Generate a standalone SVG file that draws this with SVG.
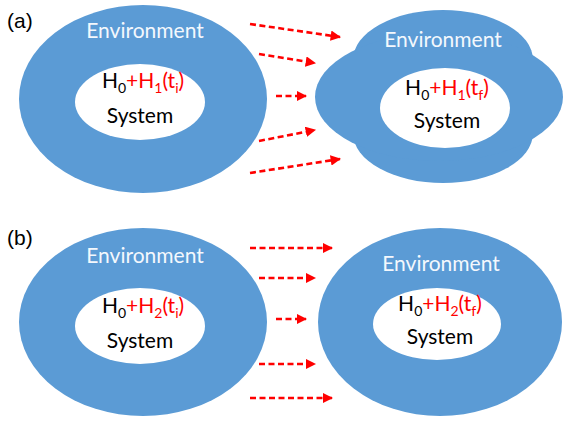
<svg xmlns="http://www.w3.org/2000/svg" width="566" height="422" viewBox="0 0 566 422">
<defs>
<style>
.env{fill:#5B9BD5}
.sys{fill:#FFFFFF}
.et{font-family:Lato,"Open Sans",sans-serif;font-size:21px;fill:#F4F8FD;text-anchor:middle}
.st{font-family:Lato,"Open Sans",sans-serif;font-size:21px;fill:#000;text-anchor:middle}
.r{fill:#FF0000}
.sub{font-size:14px}
.lbl{font-family:"Liberation Sans",Arial,sans-serif;font-size:21px;fill:#000}
.arr{stroke:#FF0000;stroke-width:2.6;stroke-dasharray:6 3.5;fill:none;marker-end:url(#ah)}
</style>
<marker id="ah" viewBox="0 0 10 10" refX="9" refY="5" markerWidth="4" markerHeight="4" orient="auto" markerUnits="strokeWidth">
<path d="M0,0 L10,5 L0,10 z" fill="#FF0000"/>
</marker>
</defs>
<rect width="566" height="422" fill="#FFFFFF"/>
<text class="lbl" x="7" y="28">(a)</text>
<text class="lbl" x="7" y="245">(b)</text>
<g id="a-initial">
<ellipse class="env" cx="143" cy="99" rx="124" ry="94"/>
<ellipse class="sys" cx="140" cy="102" rx="65" ry="38"/>
<text class="et" x="145" y="38">Environment</text>
<text class="st" x="143" y="88">H<tspan class="sub" dy="5">0</tspan><tspan class="r" dy="-5">+H</tspan><tspan class="r sub" dy="5">1</tspan><tspan class="r" dy="-5">(t</tspan><tspan class="r sub" dy="5">i</tspan><tspan class="r" dy="-5">)</tspan></text>
<text class="st" x="140" y="123">System</text>
</g>
<g id="a-final">
<ellipse class="env" cx="443" cy="60" rx="90" ry="50"/>
<ellipse class="env" cx="443" cy="133" rx="90" ry="50"/>
<ellipse class="env" cx="439" cy="97" rx="124" ry="64"/>
<ellipse class="sys" cx="445" cy="108" rx="65" ry="40"/>
<text class="et" x="443" y="47">Environment</text>
<text class="st" x="447" y="95">H<tspan class="sub" dy="5">0</tspan><tspan class="r" dy="-5">+H</tspan><tspan class="r sub" dy="5">1</tspan><tspan class="r" dy="-5">(t</tspan><tspan class="r sub" dy="5">f</tspan><tspan class="r" dy="-5">)</tspan></text>
<text class="st" x="447" y="128">System</text>
</g>
<g id="b-initial">
<ellipse class="env" cx="143" cy="322" rx="124" ry="94"/>
<ellipse class="sys" cx="140" cy="326" rx="65" ry="38"/>
<text class="et" x="145" y="263">Environment</text>
<text class="st" x="143" y="313">H<tspan class="sub" dy="5">0</tspan><tspan class="r" dy="-5">+H</tspan><tspan class="r sub" dy="5">2</tspan><tspan class="r" dy="-5">(t</tspan><tspan class="r sub" dy="5">i</tspan><tspan class="r" dy="-5">)</tspan></text>
<text class="st" x="140" y="348">System</text>
</g>
<g id="b-final">
<ellipse class="env" cx="440" cy="322" rx="122" ry="94"/>
<ellipse class="sys" cx="437" cy="324" rx="64" ry="36"/>
<text class="et" x="441" y="271">Environment</text>
<text class="st" x="440" y="311">H<tspan class="sub" dy="5">0</tspan><tspan class="r" dy="-5">+H</tspan><tspan class="r sub" dy="5">2</tspan><tspan class="r" dy="-5">(t</tspan><tspan class="r sub" dy="5">f</tspan><tspan class="r" dy="-5">)</tspan></text>
<text class="st" x="440" y="344">System</text>
</g>
<g id="connectors">
<line class="arr" x1="250" y1="24" x2="340" y2="37"/>
<line class="arr" x1="259" y1="54" x2="315" y2="63"/>
<line class="arr" x1="276" y1="96" x2="306" y2="96"/>
<line class="arr" x1="259" y1="141" x2="315" y2="130"/>
<line class="arr" x1="250" y1="173" x2="340" y2="159"/>
<line class="arr" x1="250" y1="248" x2="332" y2="248"/>
<line class="arr" x1="259" y1="278" x2="315" y2="278"/>
<line class="arr" x1="276" y1="319" x2="306" y2="319"/>
<line class="arr" x1="259" y1="364" x2="315" y2="364"/>
<line class="arr" x1="250" y1="398" x2="332" y2="398"/>
</g>
</svg>
